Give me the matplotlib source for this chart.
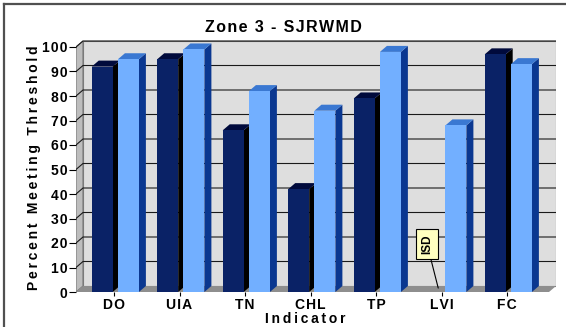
import matplotlib
matplotlib.use("Agg")
import matplotlib.pyplot as plt
from matplotlib.patches import Polygon, Rectangle
from matplotlib.lines import Line2D

# ---- data -------------------------------------------------------------
categories = ["DO", "UIA", "TN", "CHL", "TP", "LVI", "FC"]
series_dark = [92, 95, 66, 42, 79, None, 97]     # None -> insufficient data
series_light = [95, 99, 82, 74, 98, 68, 93]
y_ticks = [0, 10, 20, 30, 40, 50, 60, 70, 80, 90, 100]
title = "Zone 3 - SJRWMD"
y_label = "Percent Meeting Threshold"
x_label = "Indicator"
isd_label = "ISD"
isd_index = 5

# ---- styling ------------------------------------------------------------
FONT = ["Liberation Sans", "DejaVu Sans"]
DARK = dict(front="#0a2266", side="#000000", top="#000a3c")
LIGHT = dict(front="#72afff", side="#0a3790", top="#3a78d2")
WALL_BACK = "#dedede"
WALL_SIDE = "#bdbdbd"
FLOOR = "#8e8e8e"
GRID = "#1a1a1a"

W, H = 566, 327
fig = plt.figure(figsize=(W / 100, H / 100), dpi=100)
fig.patch.set_facecolor("white")

# frame around the chart
fig.add_artist(Line2D([4 / W, 4 / W], [0, 1 - 4 / H], transform=fig.transFigure,
                      color="#505050", lw=1.6))
fig.add_artist(Line2D([4 / W, 1], [1 - 4 / H, 1 - 4 / H], transform=fig.transFigure,
                      color="#505050", lw=1.6))

# plot-area geometry (pixels)
front_left, back_right = 76, 556
floor_px, top_px = 292, 40
px_per_unit = 2.45
cat0_px, px_per_cat = 114, 65.5
depth_x_px, depth_y_px = 7, 6

ax = fig.add_axes([front_left / W, 1 - floor_px / H,
                   (back_right - front_left) / W, (floor_px - top_px) / H])
x0 = (front_left - cat0_px) / px_per_cat
x1 = (back_right - cat0_px) / px_per_cat
ax.set_xlim(x0, x1)
ax.set_ylim(0, (floor_px - top_px) / px_per_unit)
ax.set_facecolor("none")
for s in ax.spines.values():
    s.set_visible(False)

dx = depth_x_px / px_per_cat
dy = depth_y_px / px_per_unit
ymax = y_ticks[-1]

# walls and floor
ax.add_patch(Polygon([(x0, 0), (x0 + dx, dy), (x0 + dx, ymax + dy), (x0, ymax)],
                     closed=True, fc=WALL_SIDE, ec="#7a7a7a", lw=0.8, zorder=0))
ax.add_patch(Rectangle((x0 + dx, dy), x1 - x0 - dx, ymax, fc=WALL_BACK,
                       ec="#7a7a7a", lw=0.8, zorder=0))
ax.add_patch(Polygon([(x0, 0), (x1 - dx, 0), (x1, dy), (x0 + dx, dy)],
                     closed=True, fc=FLOOR, ec="none", zorder=1))

# gridlines: diagonal on the side wall, horizontal on the back wall
for v in y_ticks[1:]:
    ax.plot([x0, x0 + dx, x1], [v, v + dy, v + dy], color=GRID, lw=0.8, zorder=1.5)


def bar3d(xc, val, width, colors, z):
    left, right = xc - width / 2, xc + width / 2
    ax.add_patch(Polygon([(right, 0), (right + dx, dy), (right + dx, val + dy), (right, val)],
                         closed=True, fc=colors["side"], ec="none", zorder=z))
    ax.add_patch(Polygon([(left, val), (right, val), (right + dx, val + dy), (left + dx, val + dy)],
                         closed=True, fc=colors["top"], ec="none", zorder=z + 0.1))
    ax.bar([xc], [val], width=width, color=colors["front"], edgecolor="none",
           zorder=z + 0.2)


bar_w = 0.32
off_dark, off_light = -0.18, 0.22
for i, (vd, vl) in enumerate(zip(series_dark, series_light)):
    z = 3 + 2 * i
    if vd is not None:
        bar3d(i + off_dark, vd, bar_w, DARK, z)
    if vl is not None:
        bar3d(i + off_light, vl, bar_w, LIGHT, z + 1)


def spaced(s, sep="\u2009"):
    return sep.join(s)


# axes ticks
ax.set_yticks(y_ticks)
ax.set_yticklabels([spaced(str(t), "\u200a") for t in y_ticks])
ax.set_xticks(range(len(categories)))
ax.set_xticklabels([spaced(c, "\u200a") for c in categories])
ax.tick_params(axis="y", length=5, width=0.8, pad=1, labelsize=10)
ax.tick_params(axis="x", length=3, width=0.8, pad=1, labelsize=10)
for lab in ax.get_xticklabels() + ax.get_yticklabels():
    lab.set_fontfamily(FONT)
    lab.set_fontweight("bold")

# insufficient-data callout
ax.annotate(isd_label, xy=(isd_index - 0.05, 1.6), xytext=(isd_index - 0.22, 19.5),
            rotation=90, ha="center", va="center", fontsize=8.5, fontweight="bold",
            family=FONT,
            bbox=dict(boxstyle="square,pad=0.45", fc="#ffffc0", ec="black", lw=0.8),
            arrowprops=dict(arrowstyle="-", color="black", lw=0.8, shrinkA=0, shrinkB=0),
            zorder=40)

fig.text(0.5, 1 - 27 / H, spaced(title, "\u200a"), ha="center", va="center",
         fontsize=11.5, fontweight="bold", family=FONT)
fig.text(34 / W, 1 - 168 / H, spaced(y_label), rotation=90, ha="center", va="center",
         fontsize=10, fontweight="bold", family=FONT)
fig.text(305 / W, 1 - 319 / H, spaced(x_label), ha="center", va="center",
         fontsize=10, fontweight="bold", family=FONT)

fig.savefig("out.png", dpi=100)
